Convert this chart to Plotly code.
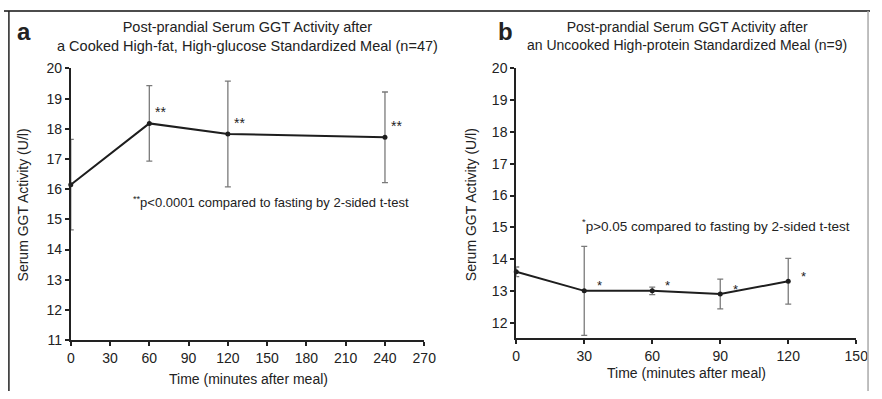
import plotly.graph_objects as go

# Panel a data
time_a = [0, 60, 120, 240]
ggt_a = [16.15, 18.18, 17.83, 17.72]
err_a = [1.5, 1.25, 1.75, 1.5]
stars_a = ["", "**", "**", "**"]

# Panel b data
time_b = [0, 30, 60, 90, 120]
ggt_b = [13.6, 13.0, 13.0, 12.9, 13.3]
err_b = [0.15, 1.4, 0.12, 0.47, 0.72]
stars_b = ["", "*", "*", "*", "*"]

xticks_a = [0, 30, 60, 90, 120, 150, 180, 210, 240, 270]
xticks_b = [0, 30, 60, 90, 120, 150]
yticks_a = [11, 12, 13, 14, 15, 16, 17, 18, 19, 20]
yticks_b = [12, 13, 14, 15, 16, 17, 18, 19, 20]

FONT = "Liberation Sans, Arial, sans-serif"
LINE = "#1e1e1e"
ERR = "#7a7a7a"

fig = go.Figure()

fig.add_trace(go.Scatter(
    x=time_a, y=ggt_a, mode="lines+markers",
    line=dict(color=LINE, width=2), marker=dict(color=LINE, size=5),
    error_y=dict(type="data", array=err_a, color=ERR, thickness=1.3, width=3),
    xaxis="x", yaxis="y", showlegend=False, cliponaxis=False))
fig.add_trace(go.Scatter(
    x=time_b, y=ggt_b, mode="lines+markers",
    line=dict(color=LINE, width=2), marker=dict(color=LINE, size=5),
    error_y=dict(type="data", array=err_b, color=ERR, thickness=1.3, width=3),
    xaxis="x2", yaxis="y2", showlegend=False, cliponaxis=False))

axis_common = dict(showgrid=False, zeroline=False, showline=True, linecolor="#222",
                   linewidth=2, ticks="outside", ticklen=4, tickwidth=1.5, tickcolor="#222",
                   tickfont=dict(family=FONT, size=14, color="#222"))

fig.update_layout(
    width=882, height=399, margin=dict(l=0, r=0, t=0, b=0),
    paper_bgcolor="white", plot_bgcolor="white",
    font=dict(family=FONT, size=14, color="#222"),
    xaxis=dict(domain=[68/882, 428/882], range=[0, 270], tickvals=xticks_a,
               anchor="y", **axis_common),
    yaxis=dict(domain=[1-346/399, 1-63/399], range=[11, 20], tickvals=yticks_a,
               anchor="x", **axis_common),
    xaxis2=dict(domain=[521.7/882, 868/882], range=[0, 150], tickvals=xticks_b,
                anchor="y2", **axis_common),
    yaxis2=dict(domain=[1-344.3/399, 1-63/399], range=[11.5, 20], tickvals=yticks_b,
                anchor="x2", **axis_common),
)


def note(x, y, text, size=14, xanchor="center", **kw):
    return dict(x=x/882, y=1-y/399, xref="paper", yref="paper", showarrow=False,
                xanchor=xanchor, yanchor="middle", text=text,
                font=dict(family=FONT, size=size, color="#222"), **kw)


ann = []
# stars near points
for x, y, s in zip(time_a, ggt_a, stars_a):
    if s:
        ann.append(dict(x=x, y=y, xref="x", yref="y", text=s, showarrow=False,
                        xanchor="left", yanchor="middle", xshift=4, yshift=11,
                        font=dict(family=FONT, size=14, color="#222")))
for x, y, s in zip(time_b, ggt_b, stars_b):
    if s:
        ann.append(dict(x=x, y=y, xref="x2", yref="y2", text=s, showarrow=False,
                        xanchor="left", yanchor="middle", xshift=11, yshift=5,
                        font=dict(family=FONT, size=13, color="#222")))

# titles
ann.append(note(248, 30, "Post-prandial Serum GGT Activity after<br>a Cooked High-fat, High-glucose Standardized Meal (n=47)", size=14.5, align="center"))
ann.append(note(696, 29, "Post-prandial Serum GGT Activity after<br>an Uncooked High-protein Standardized Meal (n=9)", size=14, align="center"))
# panel letters
ann.append(note(20, 24, "<b>a</b>", size=24))
ann.append(note(511, 24, "<b>b</b>", size=24))
# axis titles
ann.append(note(19, 205, "Serum GGT Activity (U/l)", textangle=-90))
ann.append(note(475, 205, "Serum GGT Activity (U/l)", textangle=-90))
ann.append(note(249, 387, "Time (minutes after meal)"))
ann.append(note(695, 380, "Time (minutes after meal)"))
# significance notes
ann.append(note(129, 202, "<sup>**</sup>p&lt;0.0001 compared to fasting by 2-sided t-test",
                size=13, xanchor="left"))
ann.append(note(587, 226, "<sup>*</sup>p&gt;0.05 compared to fasting by 2-sided t-test",
                size=13.5, xanchor="left"))
fig.update_layout(annotations=ann)

# frame around the image
fig.add_shape(type="line", xref="paper", yref="paper", x0=0, x1=1, y0=1-3/399, y1=1-3/399,
              line=dict(color="#111", width=1.5))
fig.add_shape(type="line", xref="paper", yref="paper", x0=5/882, x1=5/882, y0=0, y1=1-3/399,
              line=dict(color="#222", width=1.5))
fig.add_shape(type="line", xref="paper", yref="paper", x0=880/882, x1=880/882, y0=0, y1=1-3/399,
              line=dict(color="#aaa", width=1.5))

fig.write_html("out.html")
